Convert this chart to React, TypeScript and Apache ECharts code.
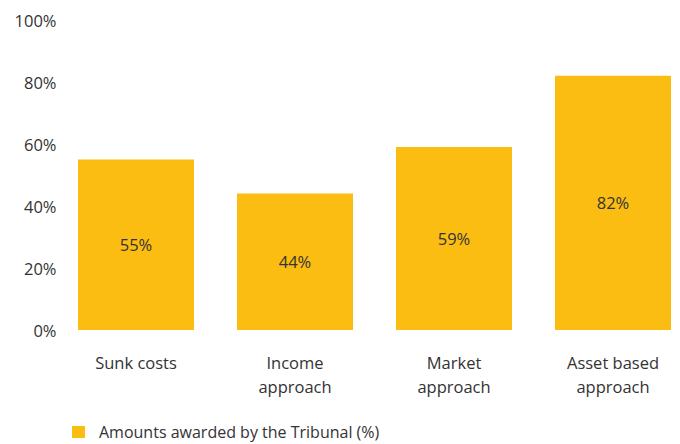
import React, { useEffect, useRef } from "react";
import * as echarts from "echarts";

const categories = ["Sunk costs", "Income\napproach", "Market\napproach", "Asset based\napproach"];
const awarded = [55, 44, 59, 82];
const yTicks = [0, 20, 40, 60, 80, 100];
const seriesName = "Amounts awarded by the Tribunal (%)";

const FONT = "'Open Sans', 'Noto Sans', sans-serif";
const BAR = "#FBBD12";
const TEXT = "#333333";

export default function App() {
  const ref = useRef<HTMLDivElement>(null);
  useEffect(() => {
    if (!ref.current) return;
    const chart = echarts.init(ref.current, null, { renderer: "svg" });
    chart.setOption({
      animation: false,
      textStyle: { fontFamily: FONT },
      grid: {
        left: 56.5,
        top: 20,
        height: 310,
        width: 636,
        containLabel: false,
        outerBoundsMode: "none",
      },
      legend: {
        left: 72,
        top: 424,
        padding: 0,
        icon: "rect",
        itemWidth: 13,
        itemHeight: 12,
        textStyle: { fontFamily: FONT, fontSize: 16, color: TEXT, padding: [0, 0, 0, 9] },
        data: [seriesName],
      },
      xAxis: {
        type: "category",
        data: categories,
        axisLine: { show: false },
        axisTick: { show: false },
        axisLabel: {
          fontFamily: FONT,
          fontSize: 16.5,
          color: TEXT,
          lineHeight: 24,
          margin: 20,
          interval: 0,
        },
      },
      yAxis: {
        type: "value",
        min: yTicks[0],
        max: yTicks[yTicks.length - 1],
        interval: 20,
        splitLine: { show: false },
        axisLine: { show: false },
        axisTick: { show: false },
        axisLabel: {
          fontFamily: FONT,
          fontSize: 16.5,
          color: TEXT,
          margin: 0,
          formatter: (v: number) => `${v}%`,
        },
      },
      series: [
        {
          name: seriesName,
          type: "bar",
          data: awarded,
          barWidth: 116,
          itemStyle: { color: BAR },
          label: {
            show: true,
            position: "inside",
            fontFamily: FONT,
            fontSize: 16.5,
            color: TEXT,
            formatter: (p: any) => `${p.value}%`,
          },
        },
      ],
    });
    return () => chart.dispose();
  }, []);
  return <div ref={ref} style={{ width: 680, height: 444, position: "absolute", left: 0, top: 0 }} />;
}
